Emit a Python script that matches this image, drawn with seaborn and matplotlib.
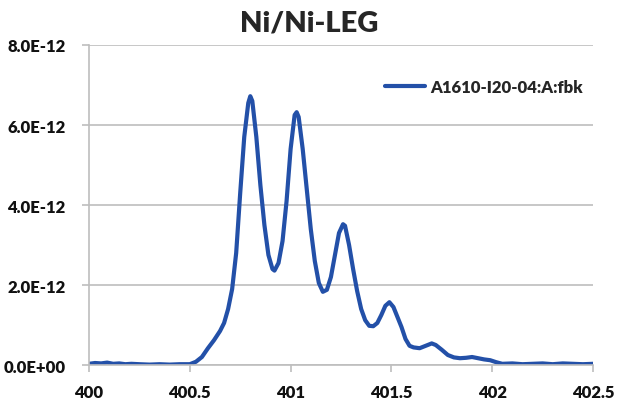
import numpy as np
import pandas as pd
import matplotlib
matplotlib.use('Agg')
import matplotlib.pyplot as plt
import seaborn as sns
from matplotlib.ticker import FuncFormatter

# energia (eV) e intensidade (x1e-12)
energia = [400.00, 400.03, 400.06, 400.09, 400.12, 400.15, 400.18, 400.21, 400.25, 400.30,
           400.35, 400.40, 400.45, 400.50, 400.53, 400.56, 400.59, 400.62, 400.65, 400.67,
           400.69, 400.71, 400.73, 400.75, 400.77, 400.79, 400.80, 400.81, 400.83, 400.85,
           400.87, 400.89, 400.91, 400.92, 400.94, 400.96, 400.98, 401.00, 401.02, 401.03,
           401.04, 401.06, 401.08, 401.10, 401.12, 401.14, 401.16, 401.18, 401.20, 401.22,
           401.24, 401.26, 401.27, 401.29, 401.31, 401.33, 401.35, 401.37, 401.39, 401.41,
           401.43, 401.45, 401.47, 401.49, 401.51, 401.53, 401.55, 401.57, 401.59, 401.61,
           401.64, 401.67, 401.70, 401.72, 401.75, 401.78, 401.81, 401.84, 401.87, 401.90,
           401.93, 401.96, 401.99, 402.02, 402.05, 402.10, 402.15, 402.20, 402.25, 402.30,
           402.35, 402.40, 402.45, 402.50]
intensidade = [0.03, 0.05, 0.04, 0.06, 0.03, 0.04, 0.02, 0.03, 0.02, 0.01,
               0.02, 0.01, 0.02, 0.02, 0.08, 0.20, 0.42, 0.62, 0.85, 1.05,
               1.40, 1.90, 2.80, 4.30, 5.70, 6.55, 6.72, 6.60, 5.70, 4.50,
               3.50, 2.75, 2.40, 2.36, 2.55, 3.10, 4.10, 5.40, 6.25, 6.32,
               6.20, 5.40, 4.40, 3.40, 2.60, 2.05, 1.83, 1.88, 2.20, 2.75,
               3.30, 3.52, 3.48, 3.00, 2.40, 1.85, 1.40, 1.12, 0.98, 0.97,
               1.05, 1.25, 1.48, 1.57, 1.45, 1.20, 0.95, 0.65, 0.48, 0.44,
               0.42, 0.48, 0.54, 0.50, 0.38, 0.25, 0.19, 0.17, 0.18, 0.20,
               0.17, 0.14, 0.12, 0.07, 0.03, 0.04, 0.02, 0.03, 0.04, 0.02,
               0.04, 0.03, 0.02, 0.03]
serie = 'A1610-I20-04:A:fbk'
titulo = 'Ni/Ni-LEG'
yticks = [0, 2e-12, 4e-12, 6e-12, 8e-12]
ylabels = ['0.0E+00', '2.0E-12', '4.0E-12', '6.0E-12', '8.0E-12']
xticks = [400, 400.5, 401, 401.5, 402, 402.5]

df = pd.DataFrame({'energia': energia, 'intensidade': np.array(intensidade) * 1e-12})

sns.set_style('white')
plt.rcParams['font.family'] = ['Lato', 'DejaVu Sans']

fig = plt.figure(figsize=(6.19, 4.06), dpi=100)
ax = fig.add_axes([0.1438, 0.0985, 0.8142, 0.7882])

sns.lineplot(x='energia', y='intensidade', data=df, ax=ax, color='#2350A8',
             linewidth=3.0, label=serie)

ax.set_xlim(400, 402.5)
ax.set_ylim(0, 8e-12)
ax.set_xticks(xticks)
ax.set_yticks(yticks)
ax.xaxis.set_major_formatter(FuncFormatter(lambda v, p: f'{v:g}'))
ax.set_yticklabels(ylabels)
ax.set_xlabel('')
ax.set_ylabel('')
ax.grid(axis='y', color='#BEBEBE', linewidth=1.2)
ax.set_axisbelow(True)
for s in ['top', 'right']:
    ax.spines[s].set_visible(False)
for s in ['left', 'bottom']:
    ax.spines[s].set_color('#BEBEBE')
    ax.spines[s].set_linewidth(1.2)
ax.tick_params(axis='both', which='major', length=5, color='#BEBEBE', width=1.2,
               labelsize=12, direction='out', bottom=True, left=True, labelcolor='#111111')
ax.tick_params(axis='x', pad=9)
ax.tick_params(axis='y', pad=12)
for lab in ax.get_xticklabels() + ax.get_yticklabels():
    lab.set_fontweight('heavy')

fig.suptitle(titulo, fontsize=21, fontweight='heavy', y=0.975)

leg = ax.legend(loc='upper right', bbox_to_anchor=(1.01, 0.94), frameon=False,
                prop={'weight': 'heavy', 'size': 12}, handlelength=2.4, handletextpad=0.3)

fig.savefig('out.png', dpi=100)
